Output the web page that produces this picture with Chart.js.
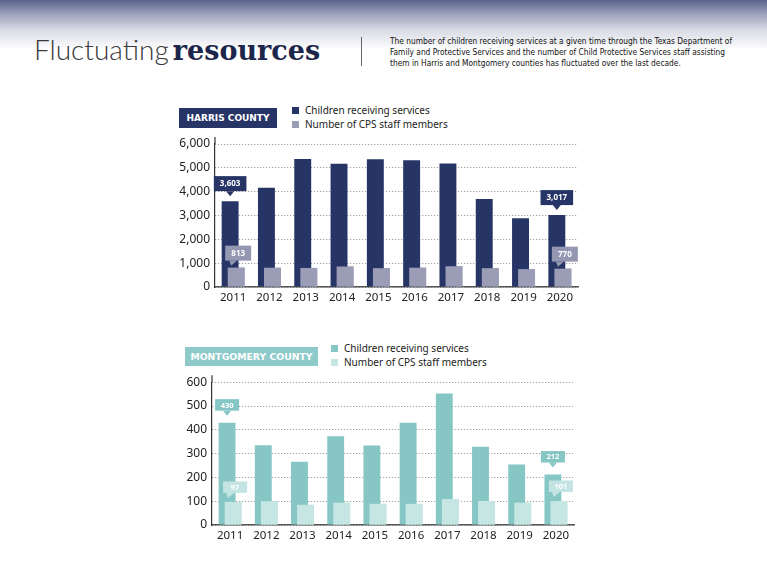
<!DOCTYPE html>
<html>
<head>
<meta charset="utf-8">
<script src="https://cdn.jsdelivr.net/npm/chart.js@4.4.1/dist/chart.umd.min.js"></script>
<style>
body { margin: 0; width: 767px; height: 575px; position: relative; overflow: hidden; background: #fff; font-family: "Noto Sans", sans-serif; }
.hdr { position: absolute; left: 0; top: 0; width: 767px; height: 52px; background: linear-gradient(#5b638d 0px, #9ca1bb 14px, #d9dbe5 30px, #fff 50px); }
.title { position: absolute; left: 34px; top: 31px; white-space: nowrap; line-height: 36px; }
.title .thin { font-family: Lato, "Open Sans", sans-serif; font-weight: 300; font-size: 28px; color: #3a3a3a; }
.title .bold { font-family: "DejaVu Serif", serif; font-weight: bold; font-size: 27px; color: #1c264a; }
.divider { position: absolute; left: 361px; top: 37px; width: 1px; height: 29px; background: #666; }
.desc { position: absolute; left: 390px; top: 36px; width: 352px; font-family: "Liberation Sans Narrow", "DejaVu Sans Condensed", sans-serif; font-size: 8.3px; line-height: 11px; color: #111; }
.box { position: absolute; color: #fff; font-family: "DejaVu Sans", sans-serif; font-weight: bold; text-align: center; white-space: nowrap; }
.legend { position: absolute; font-size: 10px; color: #222; line-height: 13.5px; white-space: nowrap; }
.legend i { display: inline-block; width: 7px; height: 7px; margin-right: 6px; vertical-align: 0px; }
.wrap { position: absolute; }
</style>
</head>
<body>
<div class="hdr"></div>
<div class="title"><span class="thin">Fluctuating</span> <span class="bold">resources</span></div>
<div class="divider"></div>
<div class="desc">The number of children receiving services at a given time through the Texas Department of Family and Protective Services and the number of Child Protective Services staff assisting them in Harris and Montgomery counties has fluctuated over the last decade.</div>

<div class="box" style="left:179px;top:108px;width:98px;height:20px;line-height:20px;font-size:9px;background:#263466;">HARRIS COUNTY</div>
<div class="legend" style="left:292px;top:104px;">
  <div><i style="background:#263466"></i>Children receiving services</div>
  <div><i style="background:#9a9db5"></i>Number of CPS staff members</div>
</div>
<div class="wrap" style="left:160px;top:130px;width:430px;height:180px;"><canvas id="harris" width="430" height="180"></canvas></div>

<div class="box" style="left:185px;top:347px;width:133px;height:19px;line-height:19px;font-size:9.3px;background:#8dcac9;">MONTGOMERY COUNTY</div>
<div class="legend" style="left:331px;top:342px;">
  <div><i style="background:#86c6c5"></i>Children receiving services</div>
  <div><i style="background:#c6e6e4"></i>Number of CPS staff members</div>
</div>
<div class="wrap" style="left:160px;top:370px;width:430px;height:175px;"><canvas id="montgomery" width="430" height="175"></canvas></div>

<script>
// values
const years = ['2011', '2012', '2013', '2014', '2015', '2016', '2017', '2018', '2019', '2020'];
const harrisChildren = [3603, 4160, 5370, 5170, 5360, 5320, 5180, 3690, 2880, 3017];
const harrisStaff = [813, 810, 800, 860, 790, 810, 870, 790, 750, 770];
const montChildren = [430, 335, 266, 373, 334, 430, 552, 329, 254, 212];
const montStaff = [97, 100, 85, 94, 89, 89, 109, 101, 94, 101];
const harrisTicks = [0, 1000, 2000, 3000, 4000, 5000, 6000];
const montTicks = [0, 100, 200, 300, 400, 500, 600];
const calloutYears = [0, 9];

// value boxes on first and last year, also puts the staff bars back on top
const callouts = {
	id: 'callouts',
	afterDatasetsDraw: function(chart, args, o) {
		let ctx = chart.ctx;
		chart.getDatasetMeta(1).controller.draw();
		let a = chart.chartArea;
		ctx.save();
		ctx.strokeStyle = '#333';
		ctx.lineWidth = 1.2;
		ctx.beginPath();
		ctx.moveTo(a.left, a.top - 7);
		ctx.lineTo(a.left, a.top);
		ctx.stroke();
		ctx.font = 'bold ' + o.size + 'px "Noto Sans", sans-serif';
		ctx.textAlign = 'center';
		ctx.textBaseline = 'middle';
		o.at.forEach(function(i) {
			// children
			let bar = chart.getDatasetMeta(0).data[i];
			let txt = chart.data.datasets[0].data[i].toLocaleString('en-US');
			let w = Math.max(o.minW, ctx.measureText(txt).width + o.pad);
			let bottom = bar.y - o.gap0;
			ctx.fillStyle = o.c0;
			ctx.fillRect(bar.x - w / 2, bottom - o.h, w, o.h);
			ctx.beginPath();
			ctx.moveTo(bar.x - 4, bottom);
			ctx.lineTo(bar.x + 4, bottom);
			ctx.lineTo(bar.x, bottom + 5);
			ctx.fill();
			ctx.fillStyle = '#fff';
			ctx.fillText(txt, bar.x, bottom - o.h / 2 + 0.5);
			// staff
			bar = chart.getDatasetMeta(1).data[i];
			txt = chart.data.datasets[1].data[i].toLocaleString('en-US');
			w = Math.max(o.minW, ctx.measureText(txt).width + o.pad);
			bottom = bar.y - o.gap1;
			let cx = bar.x + 2;
			ctx.fillStyle = o.c1;
			ctx.fillRect(cx - w / 2, bottom - o.h, w, o.h);
			ctx.beginPath();
			ctx.moveTo(bar.x - 7, bottom);
			ctx.lineTo(bar.x + 1, bottom);
			ctx.lineTo(bar.x - 5, bottom + 5);
			ctx.fill();
			ctx.fillStyle = '#fff';
			ctx.fillText(txt, cx, bottom - o.h / 2 + 0.5);
		});
		ctx.restore();
	}
};

function makeChart(id, children, staff, ticks, colors, lay, box) {
	return new Chart(document.getElementById(id), {
		type: 'bar',
		data: {
			labels: years,
			datasets: [{
				label: 'Children receiving services',
				data: children,
				backgroundColor: colors[0],
				categoryPercentage: 0.333,
				barPercentage: 2.8
			}, {
				label: 'Number of CPS staff members',
				data: staff,
				backgroundColor: colors[1],
				categoryPercentage: 0.333,
				barPercentage: 2.8
			}]
		},
		options: {
			responsive: false,
			animation: false,
			locale: 'en-US',
			layout: { padding: { left: 0, right: lay.right, top: lay.top, bottom: 0 } },
			plugins: {
				legend: { display: false },
				tooltip: { enabled: false },
				callouts: box
			},
			scales: {
				x: {
					afterFit: function(s) { s.height = lay.xh; },
					grid: { display: false, drawTicks: false },
					border: { display: true, color: '#555', width: 1.5 },
					ticks: { color: '#222', padding: 4, font: { size: 11.5, family: '"Noto Sans", sans-serif' } }
				},
				y: {
					min: ticks[0],
					max: ticks[ticks.length - 1],
					afterFit: function(s) { s.width = lay.yw; },
					grid: { color: '#8c8c8c', lineWidth: 1, drawTicks: false },
					border: { display: true, color: '#333', width: 1.2, dash: [1, 2] },
					ticks: {
						stepSize: ticks[1] - ticks[0],
						color: '#222',
						padding: 5,
						font: { size: 12, family: '"Noto Sans", sans-serif' }
					}
				}
			}
		},
		plugins: [callouts]
	});
}

makeChart('harris', harrisChildren, harrisStaff, harrisTicks, ['#263466', '#9a9db5'],
	{ right: 12, top: 14, xh: 23, yw: 55 },
	{ at: calloutYears, c0: '#263466', c1: '#9497b1', h: 15, gap0: 10, gap1: 7, size: 8, pad: 12, minW: 26 });

makeChart('montgomery', montChildren, montStaff, montTicks, ['#86c6c5', '#c6e6e4'],
	{ right: 16, top: 12, xh: 20, yw: 52 },
	{ at: calloutYears, c0: '#86c6c5', c1: '#c3e4e2', h: 11.5, gap0: 12, gap1: 9, size: 7.5, pad: 10, minW: 24 });
</script>
</body>
</html>
